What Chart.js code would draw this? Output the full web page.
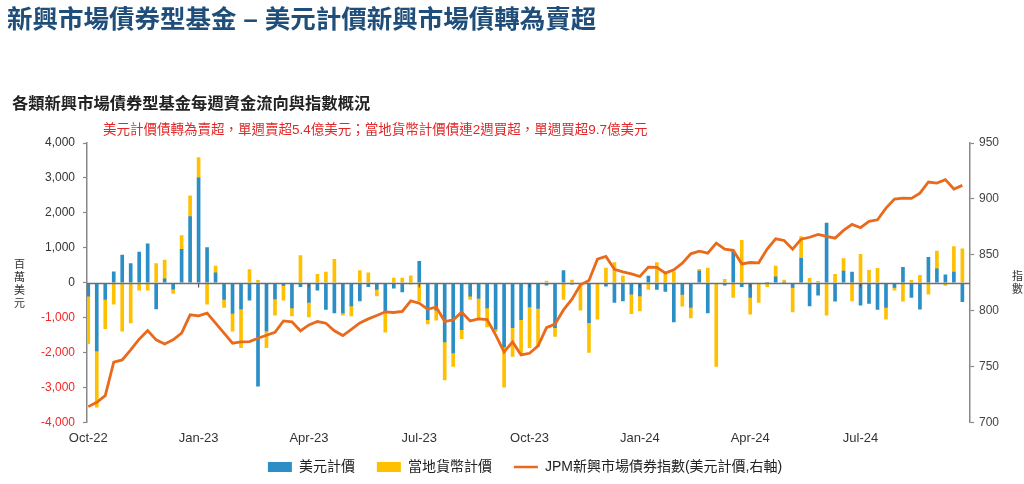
<!DOCTYPE html>
<html lang="zh-Hant">
<head>
<meta charset="utf-8">
<title>新興市場債券型基金</title>
<script src="https://cdn.jsdelivr.net/npm/chart.js@4.4.1/dist/chart.umd.min.js"></script>
<style>
  html, body { margin: 0; padding: 0; background: #fff; }
  body {
    width: 1024px; height: 484px; position: relative; overflow: hidden;
    font-family: 'Liberation Sans', 'Noto Sans CJK TC', sans-serif;
  }
  .txt { position: absolute; line-height: 1; white-space: nowrap; z-index: 2; }
  #title    { left: 7px;   top: 7px;    font-size: 25.5px; font-weight: bold; color: #1f4e7a; }
  #subtitle { left: 12px;  top: 95px;   font-size: 16.3px; font-weight: bold; color: #222; }
  #note     { left: 103px; top: 123px;  font-size: 13.5px; color: #e02828; }
  #yTitle   { left: 14px;  top: 258px;  font-size: 11px; line-height: 13px; color: #333; text-align: center; }
  #y1Title  { left: 1012px; top: 270px; font-size: 11px; line-height: 13px; color: #333; }
  #wrap { position: absolute; left: 0; top: 0; width: 1024px; height: 484px; }
</style>
</head>
<body>
<div id="title" class="txt">新興市場債券型基金 – 美元計價新興市場債轉為賣超</div>
<div id="subtitle" class="txt">各類新興市場債券型基金每週資金流向與指數概況</div>
<div id="note" class="txt">美元計價債轉為賣超，單週賣超5.4億美元；當地貨幣計價債連2週買超，單週買超9.7億美元</div>
<div id="yTitle" class="txt">百<br>萬<br>美<br>元</div>
<div id="y1Title" class="txt">指<br>數</div>
<div id="wrap"><canvas id="flowChart" width="1024" height="484"></canvas></div>

<script>
// ── Data: weekly flows (百萬美元), Oct-22 → Sep-24 ────────────────
const usdFlow = [
  -383, -1954, -479, 316, 795, 546, 881, 1111, -747, 115,
  -182, 958, 1897, 3000, 1006, 287, -479, -881, -747, -498,
  -2960, -1380, -460, -77, -718, -115, -565, -211, -766, -862,
  -862, -661, -517, -115, -192, -833, -153, -259, -30, 613,
  -1054, -786, -1696, -2012, -1341, -383, -450, -718, -1332, -1839,
  -1284, -1054, -690, -738, -67, -1284, 345, -38, -20, -1140,
  -20, -96, -565, -517, -326, -374, 192, -192, -249, -1121,
  -335, -709, 335, -862, -20, -67, 910, -115, -421, -20,
  0, 172, 0, -134, 699, -661, -354, 1705, -527, 335,
  307, -642, -594, -766, -709, -134, 441, -421, -757, 728,
  402, 230, 307, -540
];

const localFlow = [
  -1360, -1610, -833, -613, -1389, -1150, -211, -211, 546, 536,
  -125, 393, 594, 584, -613, 192, -230, -508, -1111, 374,
  67, -479, -469, -421, -230, 776, -412, 240, 307, 671,
  -67, -287, 345, 287, -182, -584, 134, 134, 201, -527,
  -125, -287, -1083, -383, -259, -96, -575, -546, -67, -1150,
  -824, -977, -1169, -1102, 48, -249, -479, 77, -766, -853,
  -1025, 421, 575, 192, -556, -431, -192, 575, 240, 316,
  -335, -297, 48, 421, -2375, 96, -421, 1217, -479, -546,
  -115, 307, 77, -699, 623, 125, 38, -929, 240, 354,
  -517, 814, 354, 412, -335, -77, -527, 67, 211, -326,
  508, -77, 728, 970
];

// JPM EM bond index (USD), right axis
const jpmIndex = [
  714.2, 718.1, 724.0, 753.9, 756.0, 765.0, 774.5, 782.2, 773.9, 770.3,
  773.9, 779.9, 796.3, 795.4, 797.8, 788.8, 779.9, 770.9, 772.1, 772.4,
  775.4, 778.0, 780.7, 790.9, 790.0, 782.0, 787.3, 790.3, 788.8, 782.0,
  777.8, 783.4, 789.1, 792.7, 795.7, 799.0, 798.4, 799.3, 808.8, 806.7,
  801.3, 803.3, 790.3, 791.8, 798.7, 790.9, 792.7, 792.1, 778.4, 763.1,
  772.1, 760.4, 761.9, 768.5, 784.9, 788.0, 800.7, 810.3, 823.1, 827.0,
  846.1, 848.5, 837.0, 834.8, 833.0, 830.6, 839.0, 838.7, 833.6, 836.6,
  842.5, 850.9, 853.3, 851.5, 860.4, 855.1, 854.0, 841.9, 843.1, 842.8,
  855.1, 864.3, 862.8, 855.0, 864.0, 865.7, 868.2, 866.4, 864.9, 871.8,
  877.2, 874.2, 879.9, 881.3, 891.8, 899.9, 900.7, 900.4, 905.2, 915.1,
  914.2, 917.2, 908.8, 912.1
];

// quarter ticks (week index) and their labels
const quarterWeeks  = [0, 13, 26, 39, 52, 65, 78, 91];
const quarterLabels = ['Oct-22', 'Jan-23', 'Apr-23', 'Jul-23', 'Oct-23', 'Jan-24', 'Apr-24', 'Jul-24'];

// ── Colours ──────────────────────────────────────────────────────
const BLUE   = '#2b8fc6';
const YELLOW = '#ffc000';
const ORANGE = '#ea6a1d';

const toPoints = (arr) => arr.map((v, i) => ({ x: i, y: v }));

// zero line + small quarter ticks hanging below it
const zeroLine = {
  id: 'zeroLine',
  afterDatasetDraw(chart, args) {
    if (args.index !== 0) return;   // after the bars, before the index line
    const { ctx, chartArea, scales: { x, y } } = chart;
    const y0 = Math.round(y.getPixelForValue(0)) + 0.5;
    ctx.save();
    ctx.strokeStyle = '#6e6e6e';
    ctx.lineWidth = 1.5;
    ctx.beginPath();
    ctx.moveTo(chartArea.left, y0);
    ctx.lineTo(chartArea.right, y0);
    ctx.stroke();
    ctx.strokeStyle = '#555';
    ctx.lineWidth = 1.2;
    ctx.beginPath();
    quarterWeeks.slice(1).forEach(w => {
      const px = x.getPixelForValue(w);
      ctx.moveTo(px, y0);
      ctx.lineTo(px, y0 + 4);
    });
    ctx.stroke();
    ctx.restore();
  }
};

// lift the legend row a bit closer to the axis labels
// (only the top moves, so the legend's clip box still covers its text)
const legendLift = {
  id: 'legendLift',
  afterLayout(chart) {
    if (chart.legend) chart.legend.top -= 10;
  }
};

const FONT = "'Liberation Sans', 'Noto Sans CJK TC', sans-serif";

new Chart(document.getElementById('flowChart'), {
  type: 'bar',
  data: {
    datasets: [
      {
        label: '美元計價',
        data: toPoints(usdFlow),
        backgroundColor: BLUE,
        borderWidth: 0,
        barThickness: 3,
        yAxisID: 'y',
        order: 1
      },
      {
        label: '當地貨幣計價',
        data: toPoints(localFlow),
        backgroundColor: YELLOW,
        borderWidth: 0,
        barThickness: 3,
        yAxisID: 'y',
        order: 2
      },
      {
        type: 'line',
        label: 'JPM新興市場債券指數(美元計價,右軸)',
        data: toPoints(jpmIndex),
        borderColor: ORANGE,
        backgroundColor: ORANGE,
        borderWidth: 2.8,
        pointRadius: 0,
        tension: 0,
        yAxisID: 'y1',
        order: 0
      }
    ]
  },
  options: {
    responsive: false,
    animation: false,
    devicePixelRatio: 1,
    layout: { padding: { top: 143, left: 26, right: 0, bottom: 0 } },
    plugins: {
      tooltip: { enabled: false },
      legend: {
        position: 'bottom',
        maxHeight: 36,
        labels: {
          usePointStyle: true,
          pointStyleWidth: 24,
          boxHeight: 10,
          padding: 22,
          color: '#222',
          font: { family: FONT, size: 14 },
          sort: (a, b) => a.datasetIndex - b.datasetIndex,
          generateLabels: (chart) => {
            const items = Chart.defaults.plugins.legend.labels.generateLabels(chart);
            items.forEach(it => {
              if (it.datasetIndex < 2) {
                it.pointStyle = 'rect';
                it.lineWidth = 0;
              } else {
                it.pointStyle = 'line';
                it.strokeStyle = ORANGE;
                it.fillStyle = ORANGE;
                it.lineWidth = 2.5;
              }
            });
            return items;
          }
        }
      }
    },
    scales: {
      x: {
        type: 'linear',
        min: -0.15,
        max: 103.9,
        offset: false,
        stacked: true,
        grid: { display: false, drawTicks: false },
        border: { display: false },
        afterBuildTicks: (scale) => {
          scale.ticks = quarterWeeks.map(v => ({ value: v }));
        },
        afterFit: (scale) => { scale.height = 25.5; },
        ticks: {
          autoSkip: false,
          maxRotation: 0,
          padding: 8,
          color: '#333',
          font: { family: FONT, size: 13 },
          callback: (v) => {
            const k = quarterWeeks.indexOf(v);
            return k >= 0 ? quarterLabels[k] : '';
          }
        }
      },
      y: {
        position: 'left',
        min: -4000,
        max: 4000,
        stacked: true,
        afterFit: (scale) => { scale.width = 61; },
        grid: { drawOnChartArea: false, tickLength: 4, tickColor: '#888', tickWidth: 1.2 },
        border: { color: '#888', width: 1.5 },
        ticks: {
          stepSize: 1000,
          padding: 8,
          font: { family: FONT, size: 12 },
          color: (ctx) => (ctx.tick && ctx.tick.value < 0) ? '#f02828' : '#333',
          callback: (v) => v.toLocaleString('en-US')
        }
      },
      y1: {
        position: 'right',
        min: 700,
        max: 950,
        afterFit: (scale) => { scale.width = 54; },
        grid: { drawOnChartArea: false, tickLength: 4, tickColor: '#888', tickWidth: 1.2 },
        border: { color: '#888', width: 1.5 },
        ticks: {
          stepSize: 50,
          padding: 5,
          color: '#444',
          font: { family: FONT, size: 12 }
        }
      }
    }
  },
  plugins: [zeroLine, legendLift]
});
</script>
</body>
</html>
